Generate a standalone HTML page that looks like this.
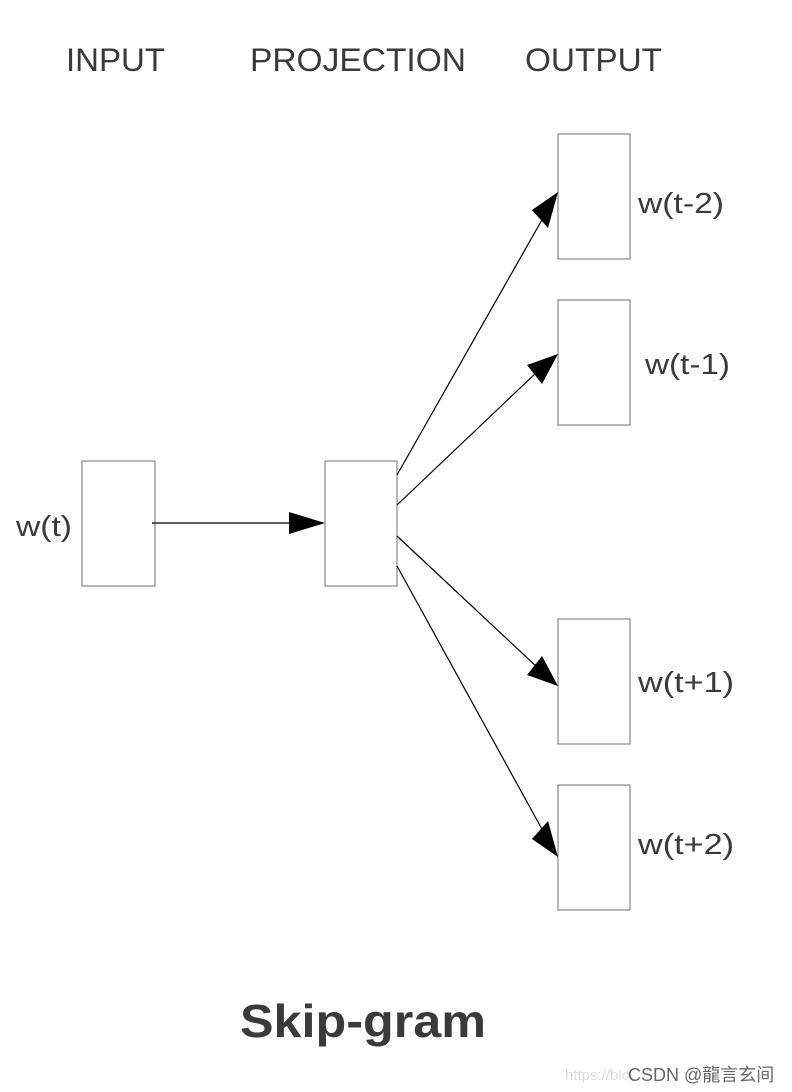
<!DOCTYPE html>
<html><head><style>html,body{margin:0;padding:0;background:#fff}svg{display:block}</style></head>
<body>
<svg width="792" height="1092" viewBox="0 0 792 1092" xmlns="http://www.w3.org/2000/svg">
<defs>
<marker id="a" markerWidth="12" markerHeight="8" refX="12" refY="4" orient="auto" markerUnits="userSpaceOnUse" viewBox="0 0 12 8">
</marker>
</defs>
<g font-family="Liberation Sans, Arial, sans-serif" fill="#3a3a3a" font-size="32">
<text x="66" y="71" textLength="99" lengthAdjust="spacingAndGlyphs">INPUT</text>
<text x="250" y="71" textLength="216" lengthAdjust="spacingAndGlyphs">PROJECTION</text>
<text x="525" y="71" textLength="137" lengthAdjust="spacingAndGlyphs">OUTPUT</text>
<text x="638" y="213" font-size="29" textLength="86" lengthAdjust="spacingAndGlyphs">w(t-2)</text>
<text x="645" y="374" font-size="29" textLength="85" lengthAdjust="spacingAndGlyphs">w(t-1)</text>
<text x="16" y="536" font-size="29" textLength="56" lengthAdjust="spacingAndGlyphs">w(t)</text>
<text x="638" y="692" font-size="29" textLength="96" lengthAdjust="spacingAndGlyphs">w(t+1)</text>
<text x="638" y="854" font-size="29" textLength="96" lengthAdjust="spacingAndGlyphs">w(t+2)</text>
<text x="240" y="1037" font-size="46" font-weight="bold" textLength="246" lengthAdjust="spacingAndGlyphs">Skip-gram</text>
</g>
<g fill="#fff" stroke="#888" stroke-width="1.2">
<rect x="82" y="461" width="73" height="125"/>
<rect x="325" y="461" width="72" height="125"/>
<rect x="558" y="134" width="72" height="125"/>
<rect x="558" y="300" width="72" height="125"/>
<rect x="558" y="619" width="72" height="125"/>
<rect x="558" y="785" width="72" height="125"/>
</g>
<g stroke="#000" stroke-width="1.2">
<line x1="152" y1="523" x2="300" y2="523"/>
<line x1="397" y1="475" x2="543" y2="218"/>
<line x1="397" y1="505" x2="538" y2="371"/>
<line x1="397" y1="536" x2="538" y2="668"/>
<line x1="397" y1="566" x2="543" y2="831"/>
</g>
<g fill="#000">
<polygon points="325,523 289,512 289,534"/>
<polygon points="558,192 548,228 532,210"/>
<polygon points="558,354 542,384 527,365"/>
<polygon points="558,686 527,675 542,656"/>
<polygon points="558,857 532,839 548,821"/>
</g>
<text x="565" y="1080" font-family="Liberation Sans, sans-serif" font-size="15" fill="#ddd">https://blo</text>
<text x="628" y="1081" font-family="Liberation Sans, 'Noto Sans CJK SC', sans-serif" font-size="18" fill="#666">CSDN @龍言玄间</text>
</svg>
</body></html>
